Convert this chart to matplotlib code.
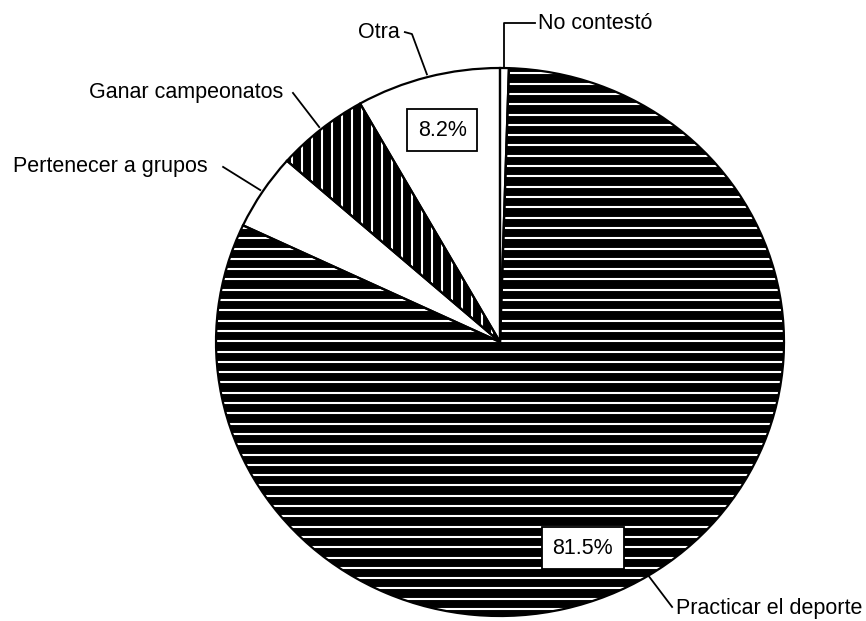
import numpy as np
import matplotlib
matplotlib.use("Agg")
import matplotlib.pyplot as plt
from matplotlib.collections import LineCollection
from matplotlib.patches import Wedge

# Survey answers, clockwise from 12 o'clock
categories = ["No contestó", "Practicar el deporte", "Pertenecer a grupos",
              "Ganar campeonatos", "Otra"]
values = [0.5, 81.5, 4.5, 5.3, 8.2]
pct_labels = {"Practicar el deporte": "81.5%", "Otra": "8.2%"}

plt.rcParams["font.family"] = ["Liberation Sans", "DejaVu Sans"]
FS = 15.5

fig = plt.figure(figsize=(8.66, 6.21), dpi=100)
ax = fig.add_axes([0, 0, 1, 1])

fills = {"Practicar el deporte": "black", "Ganar campeonatos": "black"}
colors = [fills.get(c, "white") for c in categories]

wedges, _ = ax.pie(values, startangle=90, counterclock=False, colors=colors,
                   wedgeprops=dict(edgecolor="none", linewidth=0))

# slightly elliptical disc, as printed
ax.set_aspect("auto")
ax.set_xlim(-500 / 284, 366 / 284)
ax.set_ylim(-279 / 274, 342 / 274)
ax.axis("off")

wmap = dict(zip(categories, wedges))

# white line shading inside the dark wedges
ys = np.arange(-1.05, 1.05, 0.0376)
hl = LineCollection([[(-1.1, y), (1.1, y)] for y in ys], colors="white",
                    linewidths=1.5, zorder=2)
ax.add_collection(hl)
hl.set_clip_path(wmap["Practicar el deporte"])

xs = np.arange(-1.05, 0.05, 0.0352)
vl = LineCollection([[(x, -0.1), (x, 1.1)] for x in xs], colors="white",
                    linewidths=1.5, zorder=2)
ax.add_collection(vl)
vl.set_clip_path(wmap["Ganar campeonatos"])

# wedge outlines on top
for w in wedges:
    ax.add_patch(Wedge((0, 0), 1, w.theta1, w.theta2, fill=False,
                       edgecolor="black", linewidth=1.6, zorder=3))


def mid(cat, r=1.0):
    w = wmap[cat]
    a = np.deg2rad((w.theta1 + w.theta2) / 2)
    return r * np.cos(a), r * np.sin(a)


line_kw = dict(color="black", linewidth=1.3, zorder=4)
txt_kw = dict(fontsize=FS, color="black", zorder=5)

# No contestó
x0, y0 = mid("No contestó")
ax.plot([x0, x0, 0.123], [y0, 1.164, 1.164], **line_kw)
ax.text(0.135, 1.164, "No contestó", ha="left", va="center", **txt_kw)

# Otra
x0, y0 = mid("Otra", 1.01)
ax.plot([x0, -0.31, -0.335], [y0, 1.124, 1.131], **line_kw)
ax.text(-0.352, 1.131, "Otra", ha="right", va="center", **txt_kw)

# Ganar campeonatos
x0, y0 = mid("Ganar campeonatos", 1.01)
ax.plot([x0, -0.729], [y0, 0.909], **line_kw)
ax.text(-0.764, 0.912, "Ganar campeonatos", ha="right", va="center", **txt_kw)

# Pertenecer a grupos
x0, y0 = mid("Pertenecer a grupos", 1.01)
ax.plot([x0, -0.975], [y0, 0.639], **line_kw)
ax.text(-1.028, 0.639, "Pertenecer a grupos", ha="right", va="center", **txt_kw)

# Practicar el deporte
x0, y0 = mid("Practicar el deporte", 1.0)
ax.plot([x0, 0.606], [y0, -0.967], **line_kw)
ax.text(0.62, -0.972, "Practicar el deporte", ha="left", va="center", **txt_kw)

# boxed percentages
box = dict(boxstyle="square,pad=0.5", fc="white", ec="black", lw=1.3)
px, py = mid("Otra", 0.80)
ax.text(px, py, pct_labels["Otra"], ha="center", va="center", bbox=box, **txt_kw)
ax.text(0.292, -0.752, pct_labels["Practicar el deporte"], ha="center",
        va="center", bbox=box, **txt_kw)

fig.savefig("out.png", dpi=100, facecolor="white")
